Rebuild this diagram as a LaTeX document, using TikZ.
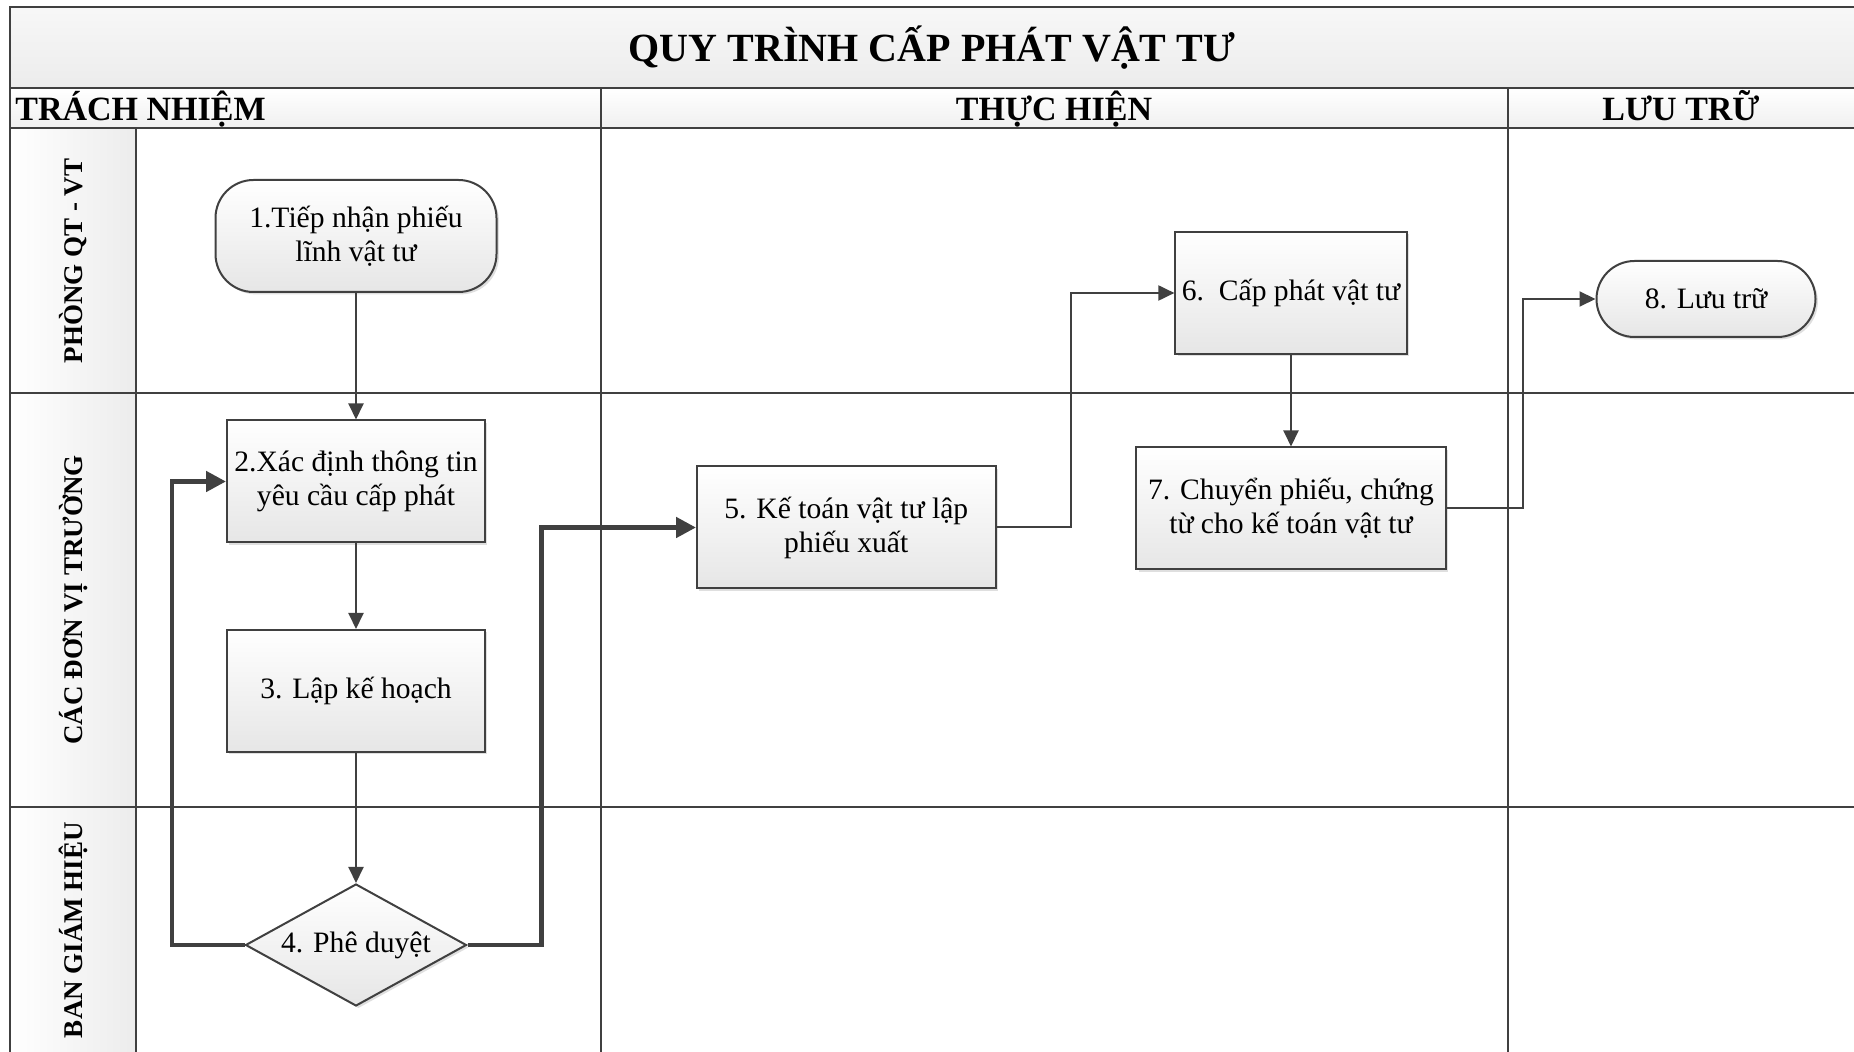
\documentclass[tikz,border=0pt]{standalone}
\usepackage{fontspec}
\setmainfont{Liberation Serif}
\usepackage{tikz}
\usetikzlibrary{arrows.meta,shapes.geometric,shadows}

\definecolor{linegray}{HTML}{404040}
\definecolor{boxgray}{HTML}{E6E6E6}
\definecolor{bandgray}{HTML}{ECECEC}
\newcommand{\boxfont}{\fontsize{14.8}{17}\selectfont}
\newcommand{\headfont}{\fontsize{17}{20}\selectfont\bfseries}
\newcommand{\titlefont}{\fontsize{20}{24}\selectfont\bfseries}
\newcommand{\lanefont}{\fontsize{13.5}{16}\selectfont\bfseries}

\tikzset{
    stepbox/.style={draw=linegray,line width=1pt,top color=white,bottom color=boxgray,
        minimum height=61pt,inner sep=2pt,align=center,font=\boxfont,
        drop shadow={shadow xshift=1.2pt,shadow yshift=-1.2pt,fill=black!25,opacity=0.5}},
    endbox/.style={stepbox,rounded corners=19pt},
    checkbox/.style={stepbox,diamond,aspect=1.8,minimum width=110.5pt,minimum height=61pt,inner sep=0pt},
    flow/.style={draw=linegray,line width=1pt,-{Triangle[length=8pt,width=7.5pt]}},
    bigflow/.style={draw=linegray,line width=2.4pt,-{Triangle[length=10pt,width=10pt]}},
    laneline/.style={draw=linegray,line width=1pt},
    headtext/.style={font=\headfont,inner sep=0pt,text height=12pt,text depth=0pt},
    lanetext/.style={font=\lanefont,rotate=90,inner sep=0pt,text height=9.5pt,text depth=0pt},
}

\begin{document}
\begin{tikzpicture}[x=0.5pt,y=-0.5pt]
    \useasboundingbox (0,0) rectangle (1854,1052);
    \path[top color=white!97!black,bottom color=bandgray] (9.8,7.3) rectangle (1854,88.3);
    \path[top color=white,bottom color=white!94!black] (9.8,88.3) rectangle (1854,128.3);
    \path[left color=white,right color=bandgray] (9.8,128.3) rectangle (136,1052);
    \draw[laneline] (9.8,1052) -- (9.8,7.3) -- (1854,7.3);
    \draw[laneline] (9.8,88.3) -- (1854,88.3);
    \draw[laneline] (9.8,128.3) -- (1854,128.3);
    \draw[laneline] (9.8,393.3) -- (1854,393.3);
    \draw[laneline] (9.8,806.7) -- (1854,806.7);
    \draw[laneline] (136,128.3) -- (136,1052);
    \draw[laneline] (600.5,88.3) -- (600.5,1052);
    \draw[laneline] (1508,88.3) -- (1508,1052);
    \node[font=\titlefont] (title) at (932,48) {QUY TRÌNH CẤP PHÁT VẬT TƯ};
    \node[headtext,anchor=west] (h1) at (15,108.3) {TRÁCH NHIỆM};
    \node[headtext] (h2) at (1054,108.3) {THỰC HIỆN};
    \node[headtext] (h3) at (1681,108.3) {LƯU TRỮ};
    \node[lanetext] (l1) at (73,261) {PHÒNG QT - VT};
    \node[lanetext] (l2) at (73,600) {CÁC ĐƠN VỊ TRƯỜNG};
    \node[lanetext] (l3) at (73,930) {BAN GIÁM HIỆU};

    \node[endbox,minimum width=140.5pt,minimum height=56pt] (p1) at (356,236) {1.Tiếp nhận phiếu\\lĩnh vật tư};
    \node[stepbox,minimum width=129pt] (p2) at (356,481.5) {2.Xác định thông tin\\yêu cầu cấp phát};
    \node[stepbox,minimum width=129pt] (p3) at (356,691) {3. Lập kế hoạch};
    \node[checkbox] (p4) at (356,945) {4. Phê duyệt};
    \node[stepbox,minimum width=149.3pt] (p5) at (846.3,527.5) {5. Kế toán vật tư lập\\phiếu xuất};
    \node[stepbox,minimum width=115.6pt] (p6) at (1291,293) {6.~~Cấp phát vật tư};
    \node[stepbox,minimum width=154.7pt] (p7) at (1291,508.5) {7. Chuyển phiếu, chứng\\từ cho kế toán vật tư};
    \node[endbox,minimum width=109.5pt,minimum height=38pt] (p8) at (1706,299) {8. Lưu trữ};

    \coordinate (t1) at (172,945);
    \coordinate (t2) at (541.5,945);
    \coordinate (t3) at (1071,400);
    \coordinate (t4) at (1523,400);

    \draw[flow] (p1) -- (p2);
    \draw[flow] (p2) -- (p3);
    \draw[flow] (p3) -- (p4);
    \draw[bigflow] (p4.west) -- (t1) |- (p2.west);
    \draw[bigflow] (p4.east) -- (t2) |- (p5.west);
    \draw[flow] (p5.east) -| (t3) |- (p6.west);
    \draw[flow] (p6) -- (p7);
    \draw[flow] (p7.east) -| (t4) |- (p8.west);
\end{tikzpicture}
\end{document}
